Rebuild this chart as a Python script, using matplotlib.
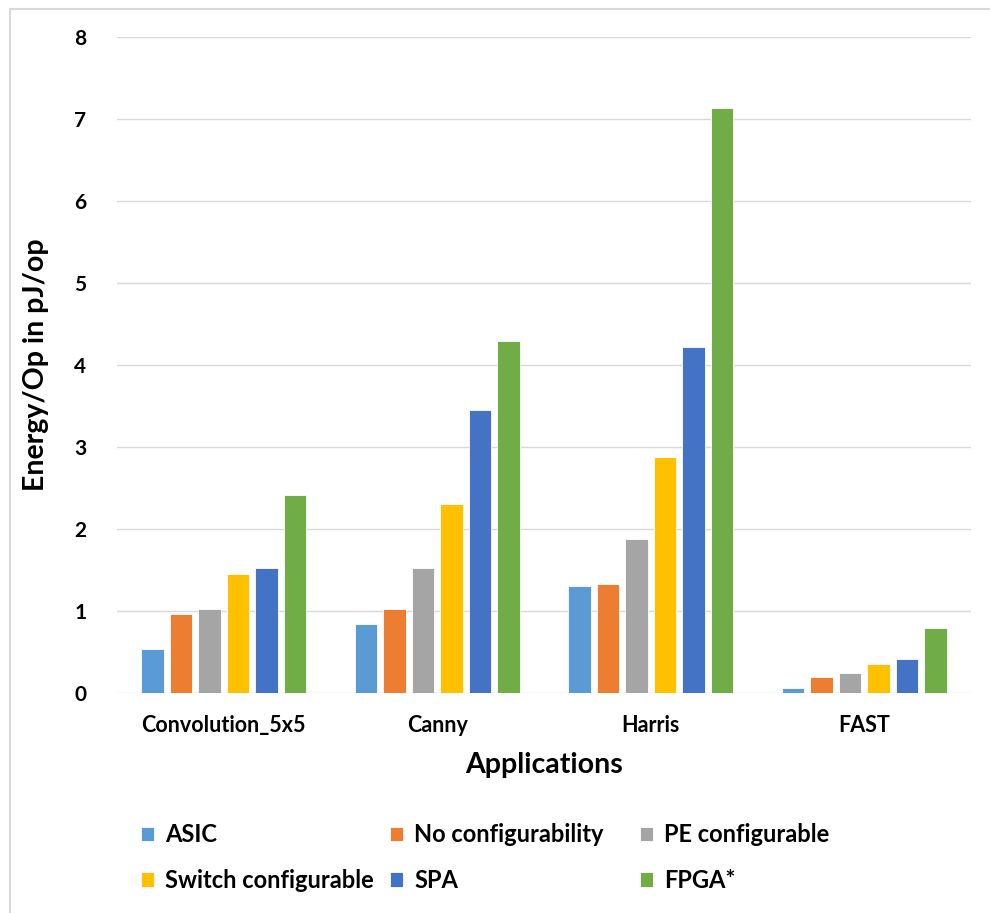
import numpy as np
import matplotlib
matplotlib.use("Agg")
import matplotlib.pyplot as plt
from matplotlib.patches import Rectangle

plt.rcParams['font.family'] = ['Lato', 'DejaVu Sans']
plt.rcParams['font.weight'] = 'bold'

# data
apps = ['Convolution_5x5', 'Canny', 'Harris', 'FAST']
asic = [0.54, 0.84, 1.31, 0.06]
no_config = [0.96, 1.02, 1.33, 0.19]
pe_config = [1.02, 1.52, 1.88, 0.24]
switch_config = [1.45, 2.31, 2.88, 0.35]
spa = [1.53, 3.45, 4.22, 0.42]
fpga = [2.41, 4.29, 7.13, 0.79]

series = [asic, no_config, pe_config, switch_config, spa, fpga]
labels = ['ASIC', 'No configurability', 'PE configurable',
          'Switch configurable', 'SPA', 'FPGA*']
colors = ['#5B9BD5', '#ED7D31', '#A5A5A5', '#FFC000', '#4472C4', '#70AD47']
yticks = [0, 1, 2, 3, 4, 5, 6, 7, 8]

fig = plt.figure(figsize=(9.9, 9.13), dpi=100)
# chart area frame (only left/top edges visible in the reference)
fig.patches.append(Rectangle((9.5/990, -0.1), 1.2, 1.1 - 9.5/913,
                             transform=fig.transFigure, fill=False,
                             edgecolor='#D9D9D9', lw=1.5))

ax = fig.add_axes([117/990, 220/913, 854/990, 656/913])
x = np.arange(len(apps))
step = 0.1336
bw = 0.107
bars = []
for i, (vals, c) in enumerate(zip(series, colors)):
    b = ax.bar(x + (i - 2.5) * step, vals, width=bw, color=c,
               edgecolor='white', linewidth=0.6, zorder=3, label=labels[i])
    bars.append(b)

ax.set_xlim(-0.5, 3.5)
ax.set_ylim(0, 8)
ax.set_yticks(yticks)
ax.set_xticks(x)
ax.set_xticklabels(apps)
ax.grid(axis='y', color='#D9D9D9', lw=1.0, zorder=0)
for s in ax.spines.values():
    s.set_visible(False)
ax.tick_params(axis='both', length=0)
ax.tick_params(axis='y', pad=22, labelsize=15)
ax.tick_params(axis='x', pad=16, labelsize=15.5)
ax.set_ylabel('Energy/Op in pJ/op', fontsize=20.5, fontweight='bold', labelpad=18)
ax.set_xlabel('Applications', fontsize=20.5, fontweight='bold', labelpad=11)

# legend: three equal-width columns, filled row by row like the reference
col_x = [132, 381, 631]
for col in range(3):
    idx = [col, col + 3]
    fig.legend([bars[i] for i in idx], [labels[i] for i in idx],
               ncol=1, loc='upper left',
               bbox_to_anchor=(col_x[col]/990, 1 - 814/913),
               frameon=False, fontsize=17, handlelength=0.55,
               handleheight=0.55, handletextpad=0.45, labelspacing=0.95,
               borderaxespad=0)

fig.savefig('out.png', dpi=100)
